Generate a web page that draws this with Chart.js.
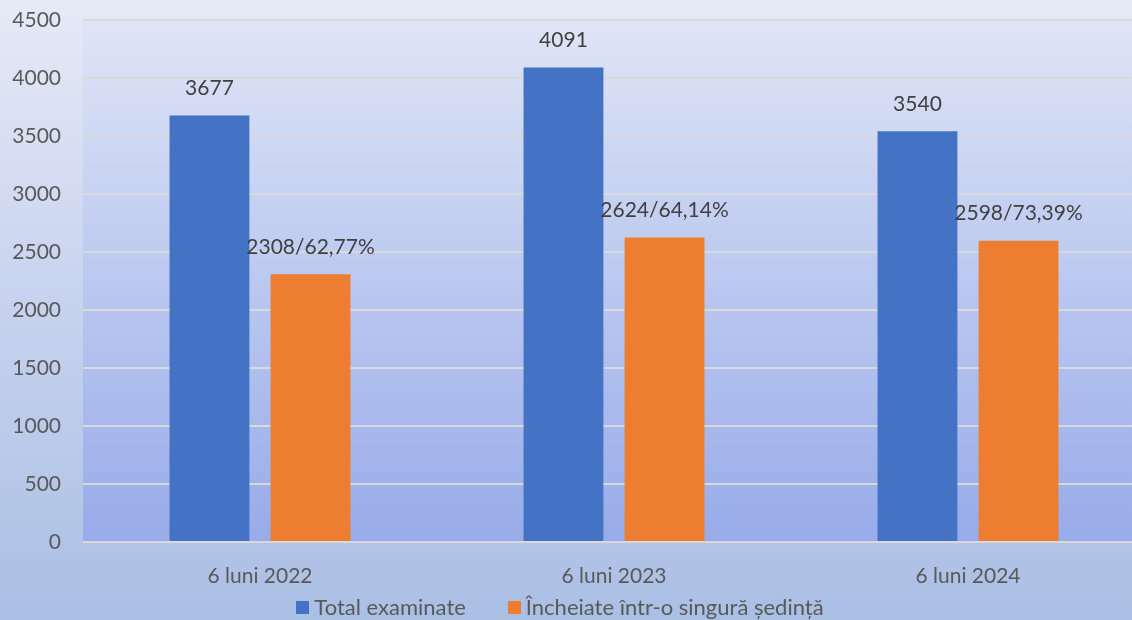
<!DOCTYPE html>
<html>
<head>
<meta charset="utf-8">
<script src="https://cdn.jsdelivr.net/npm/chart.js@4"></script>
<style>
  html, body { margin: 0; padding: 0; }
  body {
    width: 1132px; height: 620px; overflow: hidden;
    background: linear-gradient(to bottom, #e5eaf6 0%, #c9d4ef 45%, #aabfe4 100%);
    font-family: Lato, "Open Sans", sans-serif;
  }
  /* plot runs slightly past the right edge, as in the source picture */
  #wrap { position: relative; width: 1145px; height: 620px; }
  #legend {
    position: absolute; left: -6px; width: 1132px; top: 596px; height: 22px; line-height: 22px;
    display: flex; justify-content: center; align-items: center; gap: 42px;
    font-size: 22px; color: #595959;
  }
  #legend span.item { display: flex; align-items: center; white-space: nowrap; }
  #legend span.box { display: inline-block; width: 13px; height: 13px; margin-right: 5px; }
</style>
</head>
<body>
<div id="wrap">
  <canvas id="myChart"></canvas>
  <div id="legend"></div>
</div>
<script>
'use strict';

var categories = ['6 luni 2022', '6 luni 2023', '6 luni 2024'];
var totalExaminate = [3677, 4091, 3540];
var incheiate = [2308, 2624, 2598];
var incheiatePct = ['62,77%', '64,14%', '73,39%'];
var seriesNames = ['Total examinate', 'Încheiate într-o singură ședință'];
var colors = ['#4472c4', '#ed7d31'];

var FONT = 'Lato, "Open Sans", sans-serif';

// plot area gets its own gradient
var plotBg = {
  id: 'plotBg',
  beforeDraw: function(chart) {
    var a = chart.chartArea, c = chart.ctx;
    var g = c.createLinearGradient(0, a.top, 0, a.bottom);
    g.addColorStop(0, '#dfe5f6');
    g.addColorStop(1, '#97abe9');
    c.save();
    c.fillStyle = g;
    c.fillRect(a.left, a.top, a.right - a.left, a.bottom - a.top);
    c.restore();
  }
};

// value labels above bars
var barLabels = {
  id: 'barLabels',
  afterDatasetsDraw: function(chart) {
    var c = chart.ctx;
    c.save();
    c.font = '21px ' + FONT;
    c.fillStyle = '#404040';
    c.textAlign = 'center';
    c.textBaseline = 'middle';
    chart.data.datasets.forEach(function(ds, i) {
      chart.getDatasetMeta(i).data.forEach(function(bar, j) {
        var txt = String(ds.data[j]);
        if (i === 1) txt += '/' + incheiatePct[j];
        c.fillText(txt, bar.x, bar.y - 27);
      });
    });
    c.restore();
  }
};

var ctx = document.getElementById('myChart').getContext('2d');

var chart = new Chart(ctx, {
  type: 'bar',
  data: {
    labels: categories,
    datasets: [{
      label: seriesNames[0],
      backgroundColor: colors[0],
      data: totalExaminate
    }, {
      label: seriesNames[1],
      backgroundColor: colors[1],
      data: incheiate
    }]
  },
  options: {
    responsive: true,
    maintainAspectRatio: false,
    animation: false,
    categoryPercentage: 0.571,
    barPercentage: 0.79,
    layout: { padding: { top: 20, right: 0, left: 0, bottom: 18 } },
    plugins: {
      tooltip: { enabled: false },
      legend: { display: false }
    },
    scales: {
      x: {
        grid: { display: false },
        border: { display: false },
        ticks: { color: '#595959', font: { family: FONT, size: 21 }, padding: 14, maxRotation: 0 },
        afterFit: function(scale) {
          scale.height = 60;
          scale.paddingLeft = 0;
          scale.paddingRight = 0;
        }
      },
      y: {
        min: 0,
        max: 4500,
        ticks: {
          stepSize: 500, color: '#595959', font: { family: FONT, size: 21 }, padding: 22,
          callback: function(v) { return String(v); }
        },
        grid: { color: '#d9d9d9', lineWidth: 2, drawTicks: false },
        border: { display: false },
        afterFit: function(scale) {
          scale.width = 83;
          scale.paddingTop = 0;
          scale.paddingBottom = 0;
        }
      }
    }
  },
  plugins: [plotBg, barLabels]
});

// legend as html
var legend = document.getElementById('legend');
seriesNames.forEach(function(name, i) {
  var item = document.createElement('span');
  item.className = 'item';
  var box = document.createElement('span');
  box.className = 'box';
  box.style.background = colors[i];
  item.appendChild(box);
  item.appendChild(document.createTextNode(name));
  legend.appendChild(item);
});
</script>
</body>
</html>
